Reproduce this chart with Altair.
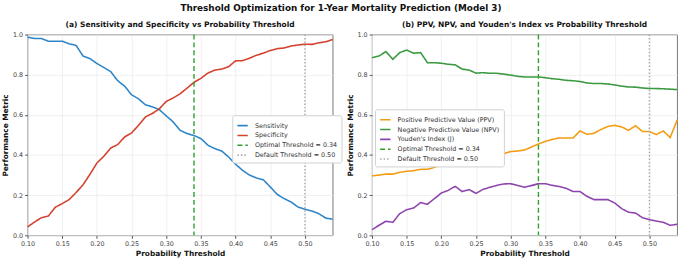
import altair as alt
import pandas as pd

thresholds = [round(0.10 + 0.01 * i, 2) for i in range(45)]

sensitivity = [0.987, 0.980, 0.980, 0.967, 0.967, 0.967, 0.954, 0.946, 0.893, 0.880,
               0.856, 0.836, 0.815, 0.770, 0.743, 0.700, 0.680, 0.650, 0.640, 0.626,
               0.595, 0.565, 0.523, 0.507, 0.497, 0.482, 0.449, 0.432, 0.420, 0.390,
               0.354, 0.324, 0.300, 0.286, 0.277, 0.241, 0.204, 0.183, 0.166, 0.141,
               0.130, 0.121, 0.108, 0.086, 0.080]
specificity = [0.042, 0.066, 0.088, 0.096, 0.140, 0.158, 0.178, 0.213, 0.252, 0.304,
               0.360, 0.394, 0.435, 0.452, 0.490, 0.510, 0.548, 0.590, 0.607, 0.630,
               0.667, 0.684, 0.705, 0.733, 0.762, 0.782, 0.808, 0.823, 0.828, 0.840,
               0.869, 0.870, 0.882, 0.897, 0.907, 0.921, 0.930, 0.933, 0.943, 0.948,
               0.952, 0.951, 0.959, 0.964, 0.975]
ppv = [0.296, 0.300, 0.305, 0.305, 0.314, 0.319, 0.322, 0.329, 0.329, 0.339,
       0.350, 0.357, 0.367, 0.362, 0.370, 0.365, 0.380, 0.390, 0.399, 0.407,
       0.417, 0.420, 0.425, 0.440, 0.455, 0.468, 0.478, 0.485, 0.485, 0.485,
       0.520, 0.503, 0.508, 0.527, 0.542, 0.548, 0.540, 0.523, 0.546, 0.517,
       0.517, 0.502, 0.520, 0.487, 0.574]
npv = [0.885, 0.893, 0.915, 0.877, 0.910, 0.923, 0.907, 0.910, 0.860, 0.860,
       0.857, 0.852, 0.849, 0.828, 0.823, 0.808, 0.810, 0.807, 0.807, 0.803,
       0.798, 0.792, 0.789, 0.789, 0.789, 0.785, 0.780, 0.777, 0.772, 0.770,
       0.766, 0.759, 0.756, 0.756, 0.754, 0.749, 0.743, 0.739, 0.738, 0.734,
       0.731, 0.731, 0.730, 0.728, 0.726]
youden = [0.028, 0.050, 0.070, 0.065, 0.108, 0.128, 0.136, 0.163, 0.155, 0.183,
          0.211, 0.224, 0.244, 0.218, 0.228, 0.209, 0.229, 0.239, 0.249, 0.256,
          0.257, 0.248, 0.239, 0.248, 0.257, 0.257, 0.249, 0.243, 0.234, 0.218,
          0.218, 0.194, 0.178, 0.178, 0.178, 0.161, 0.133, 0.115, 0.111, 0.088,
          0.078, 0.071, 0.065, 0.050, 0.055]

optimal_t = 0.34
default_t = 0.50
x_ticks = [0.10, 0.15, 0.20, 0.25, 0.30, 0.35, 0.40, 0.45, 0.50]
y_ticks = [0.0, 0.2, 0.4, 0.6, 0.8, 1.0]

OPT = "Optimal Threshold = 0.34"
DEF = "Default Threshold = 0.50"

FONT = "DejaVu Sans"
W, H = 310, 204


def long_df(series):
    rows = []
    for name, vals in series:
        for t, v in zip(thresholds, vals):
            rows.append({"threshold": t, "value": v, "series": name})
    return pd.DataFrame(rows)


def xenc():
    return alt.X("threshold:Q", scale=alt.Scale(domain=[0.10, 0.54], nice=False, zero=False),
                 axis=alt.Axis(values=x_ticks, format=".2f", title="Probability Threshold",
                               labelOverlap=False, labelFlush=False))


def panel(series, colors, title, lx, ly):
    names = [s[0] for s in series] + [OPT, DEF]
    rng_col = colors + ["#2ca02c", "#aaaaaa"]
    dashes = [[1, 0]] * len(series) + [[5, 3], [1.5, 2]]
    color_scale = alt.Scale(domain=names, range=rng_col)
    dash_scale = alt.Scale(domain=names, range=dashes)
    legend = alt.Legend(
        title=None, orient="none", legendX=lx, legendY=ly,
        symbolType="stroke", symbolSize=110, symbolStrokeWidth=1.6,
        labelFontSize=6.5, labelFont=FONT, labelColor="#333",
        fillColor="white", strokeColor="#d0d0d0", padding=4, cornerRadius=2,
        rowPadding=0, labelLimit=200, labelOffset=6,
    )
    lines = alt.Chart(long_df(series)).mark_line(strokeWidth=1.6).encode(
        x=xenc(),
        y=alt.Y("value:Q", scale=alt.Scale(domain=[0, 1], nice=False),
                axis=alt.Axis(values=y_ticks, format=".1f", title="Performance Metric",
                              labelOverlap=False, labelFlush=False)),
        color=alt.Color("series:N", scale=color_scale, legend=legend, sort=names),
        strokeDash=alt.StrokeDash("series:N", scale=dash_scale, legend=legend, sort=names),
        detail="series:N",
    )
    rules_df = pd.DataFrame({"threshold": [optimal_t, default_t], "series": [OPT, DEF]})
    rules = alt.Chart(rules_df).mark_rule(strokeWidth=1.4).encode(
        x=xenc(),
        color=alt.Color("series:N", scale=color_scale, legend=legend, sort=names),
        strokeDash=alt.StrokeDash("series:N", scale=dash_scale, legend=legend, sort=names),
    )
    return alt.layer(lines, rules).properties(
        width=W, height=H,
        title=alt.TitleParams(title, fontSize=7.6, font=FONT, fontWeight="bold", offset=3, color="#111"),
    )


left = panel([("Sensitivity", sensitivity), ("Specificity", specificity)],
             ["#2E86C9", "#D5412F"],
             "(a) Sensitivity and Specificity vs Probability Threshold", 208, 82)
right = panel([("Positive Predictive Value (PPV)", ppv),
               ("Negative Predictive Value (NPV)", npv),
               ("Youden's Index (J)", youden)],
              ["#F39C12", "#3A9A3F", "#8E44AD"],
              "(b) PPV, NPV, and Youden's Index vs Probability Threshold", 3, 76)

chart = alt.hconcat(left, right, spacing=3).resolve_scale(
    color="independent", strokeDash="independent"
).resolve_legend(color="independent", strokeDash="independent").properties(
    title=alt.TitleParams("Threshold Optimization for 1-Year Mortality Prediction (Model 3)",
                          anchor="middle", fontSize=9, font=FONT, fontWeight="bold", offset=8, color="#111"),
    padding={"left": 1, "top": 2, "right": 4, "bottom": 3},
).configure_view(stroke="#555", strokeWidth=0.8).configure_axis(
    labelFont=FONT, labelFontSize=6.5, labelColor="#444",
    titleFont=FONT, titleFontSize=7.5, titleFontWeight="bold", titleColor="#111",
    grid=True, gridColor="#ececec", gridWidth=0.8,
    domain=False, tickColor="#555", tickSize=3, labelPadding=2, titlePadding=3,
)

chart.save("out.html", embed_options={"renderer": "svg", "actions": False})
